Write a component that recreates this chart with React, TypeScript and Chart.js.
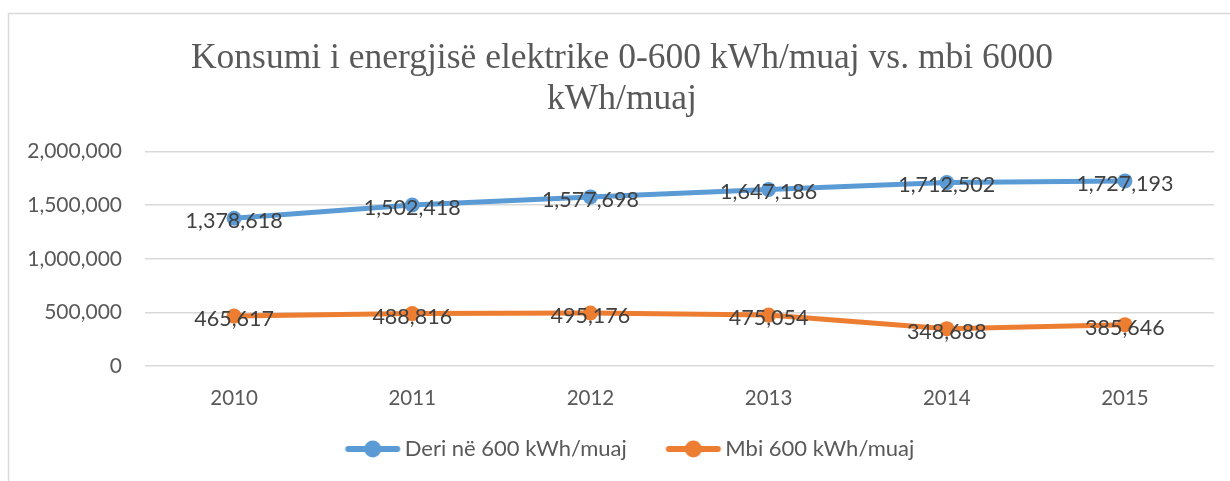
import React, { useEffect, useRef } from 'react';
import { Chart, registerables } from 'chart.js';

Chart.register(...registerables);

const categories = ['2010', '2011', '2012', '2013', '2014', '2015'];
const seriesDeri = [1378618, 1502418, 1577698, 1647186, 1712502, 1727193];
const seriesMbi = [465617, 488816, 495176, 475054, 348688, 385646];
const seriesNames = ['Deri në 600 kWh/muaj', 'Mbi 600 kWh/muaj'];
const titleLines = ['Konsumi i energjisë elektrike 0-600 kWh/muaj vs. mbi 6000', 'kWh/muaj'];
const yMin = 0;
const yMax = 2000000;
const yStep = 500000;

const BLUE = '#5B9BD5';
const ORANGE = '#ED7D31';
const FONT = 'Lato';

function legendImage(color: string): HTMLCanvasElement {
  const c = document.createElement('canvas');
  c.width = 62;
  c.height = 20;
  const ctx = c.getContext('2d')!;
  ctx.strokeStyle = color;
  ctx.lineWidth = 6;
  ctx.lineCap = 'round';
  ctx.beginPath();
  ctx.moveTo(6.5, 10);
  ctx.lineTo(55.5, 10);
  ctx.stroke();
  ctx.fillStyle = color;
  ctx.beginPath();
  ctx.arc(31, 10, 8.5, 0, Math.PI * 2);
  ctx.fill();
  return c;
}

const framePlugin = {
  id: 'frame',
  afterLayout(chart: any) {
    if (chart.legend) {
      chart.legend.left += 11;
      chart.legend.right += 11;
    }
  },
  beforeDraw(chart: any) {
    const ctx = chart.ctx;
    ctx.save();
    ctx.fillStyle = '#ffffff';
    ctx.fillRect(0, 0, chart.width, chart.height);
    ctx.strokeStyle = '#d9d9d9';
    ctx.lineWidth = 1.5;
    ctx.strokeRect(8.5, 13.5, chart.width + 50, chart.height + 50);
    ctx.restore();
  },
};

const labelPlugin = {
  id: 'valueLabels',
  afterDatasetsDraw(chart: any) {
    const ctx = chart.ctx;
    ctx.save();
    ctx.font = `21.5px ${FONT}`;
    ctx.fillStyle = '#404040';
    ctx.textAlign = 'center';
    ctx.textBaseline = 'middle';
    chart.data.datasets.forEach((ds: any, i: number) => {
      const meta = chart.getDatasetMeta(i);
      meta.data.forEach((pt: any, j: number) => {
        const v = ds.data[j] as number;
        ctx.fillText(v.toLocaleString('en-US'), pt.x, pt.y + 3);
      });
    });
    ctx.restore();
  },
};

export default function App() {
  const ref = useRef<HTMLCanvasElement | null>(null);

  useEffect(() => {
    if (!ref.current) return;
    const colors = [BLUE, ORANGE];
    const chart = new Chart(ref.current, {
      type: 'line',
      data: {
        labels: categories,
        datasets: [
          {
            label: seriesNames[0],
            data: seriesDeri,
            borderColor: BLUE,
            backgroundColor: BLUE,
            borderWidth: 5,
            pointRadius: 7.5,
            pointBackgroundColor: BLUE,
            pointBorderWidth: 0,
            tension: 0,
          },
          {
            label: seriesNames[1],
            data: seriesMbi,
            borderColor: ORANGE,
            backgroundColor: ORANGE,
            borderWidth: 5,
            pointRadius: 7.5,
            pointBackgroundColor: ORANGE,
            pointBorderWidth: 0,
            tension: 0,
          },
        ],
      },
      options: {
        responsive: false,
        animation: false,
        layout: { padding: { left: 30, right: 16, top: 0, bottom: 11 } },
        plugins: {
          title: {
            display: true,
            text: titleLines,
            color: '#595959',
            font: { family: 'Liberation Serif', size: 35.5, weight: 'normal', lineHeight: 1.15 },
            padding: { top: 38, bottom: 32 },
          },
          legend: {
            position: 'bottom',
            labels: {
              usePointStyle: true,
              pointStyleWidth: 42,
              padding: 29,
              color: '#595959',
              font: { family: FONT, size: 22 },
              generateLabels: (ch: any) =>
                ch.data.datasets.map((ds: any, i: number) => ({
                  text: i === 0 ? ds.label + '\u2003' : ds.label,
                  pointStyle: legendImage(colors[i]),
                  fillStyle: colors[i],
                  strokeStyle: colors[i],
                  lineWidth: 0,
                  hidden: false,
                  datasetIndex: i,
                  fontColor: '#595959',
                })),
            },
          },
          tooltip: { enabled: false },
        },
        scales: {
          x: {
            offset: true,
            afterFit: (s: any) => {
              s.height = 43;
            },
            grid: { display: false, drawTicks: false },
            border: { display: false },
            ticks: { color: '#595959', font: { family: FONT, size: 20.5 }, padding: 20 },
          },
          y: {
            min: yMin,
            max: yMax,
            afterFit: (s: any) => {
              s.width = 115;
              s._computeLabelArea = () => undefined;
            },
            grid: { color: '#d9d9d9', lineWidth: 1.5, drawTicks: false },
            border: { display: false },
            ticks: {
              stepSize: yStep,
              color: '#595959',
              font: { family: FONT, size: 21 },
              padding: 23,
              callback: (v: any) => Number(v).toLocaleString('en-US'),
            },
          },
        },
      },
      plugins: [framePlugin, labelPlugin],
    });
    return () => chart.destroy();
  }, []);

  return (
    <div style={{ position: 'fixed', left: 0, top: 0, width: 1230, height: 481 }}>
      <canvas ref={ref} width={1230} height={481} style={{ display: 'block' }} />
    </div>
  );
}
